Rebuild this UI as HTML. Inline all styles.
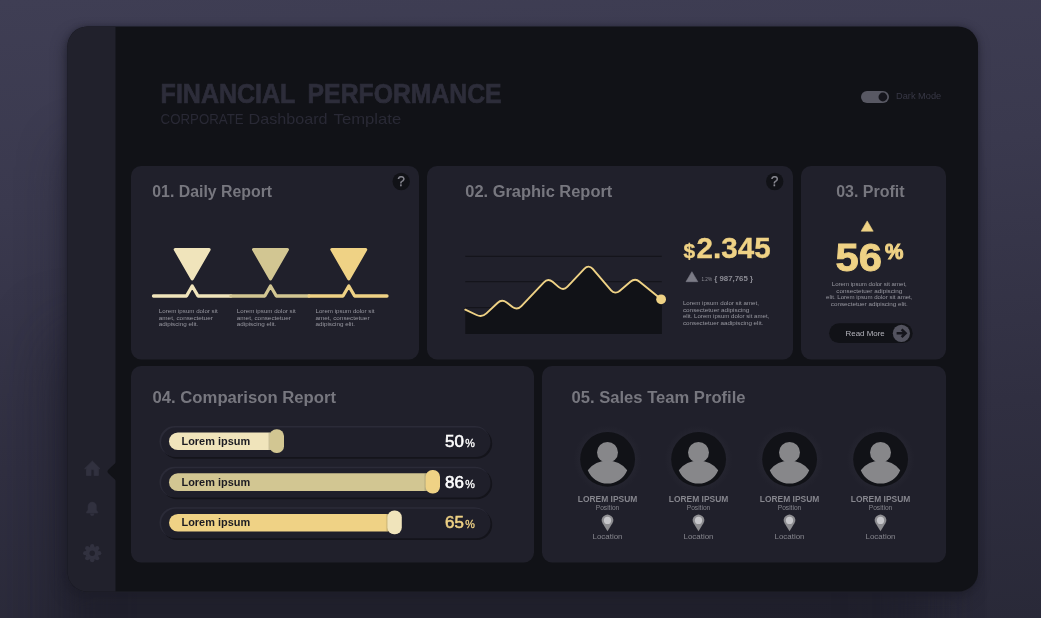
<!DOCTYPE html>
<html lang="en">
<head>
<meta charset="utf-8">
<title>Financial Performance – Corporate Dashboard Template</title>
<style>
html,body{margin:0;padding:0;background:#2c2b3c;}
body{width:1041px;height:618px;overflow:hidden;position:relative;font-family:"Liberation Sans",sans-serif;}
#bg{position:absolute;left:0;top:0;width:1041px;height:618px;
 background:linear-gradient(176deg,#3f3e54 0%,#3a394e 30%,#302f41 68%,#292938 100%);}
#frameshadow{position:absolute;left:67.5px;top:26.5px;width:910.5px;height:565px;border-radius:20px;background:#20202b;
 box-shadow:-3px 6px 14px 0 rgba(29,29,40,0.6), 0 0 5px 1px rgba(32,32,43,0.5);}
#shB{position:absolute;left:67.5px;top:26.5px;width:884px;height:565px;border-radius:20px;box-shadow:-10px 110px 50px -10px rgba(29,29,40,0.45);}
#shC{position:absolute;left:67.5px;top:26.5px;width:876px;height:565px;border-radius:20px;box-shadow:-22px 300px 64px -14px rgba(29,29,40,0.54);}
svg{position:absolute;left:0;top:0;display:block;}
text{font-family:"Liberation Sans",sans-serif;}
.h{font-weight:700;font-size:16px;fill:#77777f;}
.tiny{font-size:5.6px;fill:#9898a1;}
.lbl{font-weight:700;font-size:10.5px;fill:#1b1b22;}
.name{font-weight:700;font-size:9.3px;fill:#85858d;}
.pos{font-size:6.3px;fill:#85858d;}
.loc{font-size:7.2px;fill:#85858d;}
</style>
</head>
<body>
<div id="bg"></div>
<div id="shC"></div>
<div id="shB"></div>
<div id="frameshadow"></div>
<svg width="1041" height="618" viewBox="0 0 1041 618">
<defs>
  <linearGradient id="ks" x1="0" y1="0" x2="1" y2="0">
    <stop offset="0" stop-color="#6b6547" stop-opacity="0"/>
    <stop offset="1" stop-color="#6b6547" stop-opacity="0.45"/>
  </linearGradient>
  <radialGradient id="halo" cx="0.5" cy="0.5" r="0.5">
    <stop offset="0.8" stop-color="#24242f"/>
    <stop offset="1" stop-color="#20202b"/>
  </radialGradient>
  <clipPath id="frame"><rect x="67.5" y="26.5" width="910.5" height="565" rx="20"/></clipPath>
</defs>

<!-- BACKGROUND -->

<!-- FRAME -->
<g clip-path="url(#frame)">
  <rect x="67" y="26" width="912" height="566" fill="#111217"/>
  <rect x="67" y="26" width="48.5" height="566" fill="#21212c"/>
  <path d="M116 462.4 L109 468.9 Q107.5 470.3 107.5 471.5 Q107.5 472.7 109 474.1 L116 480.4 Z" fill="#111217"/>
</g>

<!-- HEADER -->
<g font-size="26.8" font-weight="700" fill="#2d2d3a" stroke="#2d2d3a" stroke-width="0.7">
  <text x="160.6" y="103" textLength="134.8" lengthAdjust="spacingAndGlyphs">FINANCIAL</text>
  <text x="307.6" y="103" textLength="194" lengthAdjust="spacingAndGlyphs">PERFORMANCE</text>
</g>
<g font-size="15" fill="#292935">
  <text x="160.6" y="124.2" textLength="83" lengthAdjust="spacingAndGlyphs">CORPORATE</text>
  <text x="248.6" y="124.2" textLength="79" lengthAdjust="spacingAndGlyphs">Dashboard</text>
  <text x="333.6" y="124.2" textLength="67.6" lengthAdjust="spacingAndGlyphs">Template</text>
</g>

<rect x="861" y="91" width="28" height="12" rx="6" fill="#585863"/>
<circle cx="882.9" cy="97" r="4.4" fill="#15151c"/>
<text x="896" y="99.4" font-size="8.6" fill="#383846" textLength="45.2" lengthAdjust="spacingAndGlyphs">Dark Mode</text>

<!-- CARDS -->
<rect x="131" y="166" width="288" height="193.4" rx="10" fill="#20202b"/>
<rect x="427" y="166" width="366" height="193.4" rx="10" fill="#20202b"/>
<rect x="801" y="166" width="145" height="193.4" rx="10" fill="#20202b"/>
<rect x="131" y="366" width="403" height="196.4" rx="10" fill="#20202b"/>
<rect x="542" y="366" width="404" height="196.4" rx="10" fill="#20202b"/>

<!-- CARD 01 -->
<text class="h" x="152.3" y="196.7" textLength="119.8" lengthAdjust="spacingAndGlyphs">01. Daily Report</text>
<circle cx="401.2" cy="181.5" r="8.7" fill="#111217"/>
<text x="401.2" y="186.4" font-size="13.8" fill="#8a8a93" stroke="#8a8a93" stroke-width="0.25" text-anchor="middle">?</text>

<g stroke-linejoin="round" stroke-width="3">
  <path d="M175.2 249.5 H209.2 L192.2 279 Z" fill="#f0e4bb" stroke="#f0e4bb"/>
  <path d="M253.5 249.5 H287.5 L270.5 279 Z" fill="#d2c692" stroke="#d2c692"/>
  <path d="M331.8 249.5 H365.8 L348.8 279 Z" fill="#efd285" stroke="#efd285"/>
</g>
<g fill="none" stroke-width="3.3" stroke-linecap="round" stroke-linejoin="round">
  <path d="M153.5 296 H186.5 L192.2 286 L198 296 H231" stroke="#f0e4bb"/>
  <path d="M231 296 H264.8 L270.5 286 L276.3 296 H309" stroke="#d2c692"/>
  <path d="M309 296 H343 L348.8 286 L354.6 296 H387" stroke="#efd285"/>
</g>
<g class="tiny">
  <text x="158.8" y="313" textLength="59" lengthAdjust="spacingAndGlyphs">Lorem ipsum dolor sit</text>
  <text x="158.8" y="319.7" textLength="54" lengthAdjust="spacingAndGlyphs">amet, consectetuer</text>
  <text x="158.8" y="326.4" textLength="39.5" lengthAdjust="spacingAndGlyphs">adipiscing elit.</text>
  <text x="236.8" y="313" textLength="59" lengthAdjust="spacingAndGlyphs">Lorem ipsum dolor sit</text>
  <text x="236.8" y="319.7" textLength="54" lengthAdjust="spacingAndGlyphs">amet, consectetuer</text>
  <text x="236.8" y="326.4" textLength="39.5" lengthAdjust="spacingAndGlyphs">adipiscing elit.</text>
  <text x="315.5" y="313" textLength="59" lengthAdjust="spacingAndGlyphs">Lorem ipsum dolor sit</text>
  <text x="315.5" y="319.7" textLength="54" lengthAdjust="spacingAndGlyphs">amet, consectetuer</text>
  <text x="315.5" y="326.4" textLength="39.5" lengthAdjust="spacingAndGlyphs">adipiscing elit.</text>
</g>

<!-- CARD 02 -->
<text class="h" x="465.3" y="196.7" textLength="147" lengthAdjust="spacingAndGlyphs">02. Graphic Report</text>
<circle cx="774.7" cy="181.5" r="8.7" fill="#111217"/>
<text x="774.7" y="186.4" font-size="13.8" fill="#8a8a93" stroke="#8a8a93" stroke-width="0.25" text-anchor="middle">?</text>

<g stroke="#14141b" stroke-width="1.2">
  <path d="M465.3 256.4 H661.7 M465.3 281.6 H661.7 M465.3 307.6 H661.7"/>
</g>
<path id="area" d="M465.3 309.7 L476.6 315.0 C479.8 316.5 483.8 315.9 486.4 313.4 L497.5 303.0 C500.1 300.5 503.8 300.4 506.7 302.5 L512.5 307.0 C515.4 309.1 518.9 308.9 521.4 306.2 L543.9 282.3 C546.4 279.6 549.8 279.5 552.6 281.8 L558.8 287.1 C561.6 289.4 565.0 289.3 567.5 286.6 L584.5 268.6 C587.0 265.9 590.2 266.0 592.5 268.7 L611.1 290.4 C613.4 293.1 616.8 293.3 619.6 291.0 L630.4 281.8 C633.2 279.5 636.9 279.4 639.6 281.7 L661.2 299.3 H661.9 V333.9 H465.3 Z" fill="#111217"/>
<path d="M465.3 309.7 L476.6 315.0 C479.8 316.5 483.8 315.9 486.4 313.4 L497.5 303.0 C500.1 300.5 503.8 300.4 506.7 302.5 L512.5 307.0 C515.4 309.1 518.9 308.9 521.4 306.2 L543.9 282.3 C546.4 279.6 549.8 279.5 552.6 281.8 L558.8 287.1 C561.6 289.4 565.0 289.3 567.5 286.6 L584.5 268.6 C587.0 265.9 590.2 266.0 592.5 268.7 L611.1 290.4 C613.4 293.1 616.8 293.3 619.6 291.0 L630.4 281.8 C633.2 279.5 636.9 279.4 639.6 281.7 L661.2 299.3" fill="none" stroke="#efd285" stroke-width="1.9" stroke-linecap="round"/>
<circle cx="661.1" cy="299.3" r="4.9" fill="#efd285"/>

<text x="683.4" y="257.6" font-size="21" font-weight="700" fill="#efd285" stroke="#efd285" stroke-width="0.4">$</text>
<text x="696.6" y="258.4" font-size="29.2" font-weight="700" fill="#efd285" stroke="#efd285" stroke-width="0.4" textLength="74" lengthAdjust="spacingAndGlyphs">2.345</text>
<path d="M691.9 271.7 L697.8 281.7 H686 Z" fill="#7b7b86" stroke="#7b7b86" stroke-width="0.6" stroke-linejoin="round"/>
<text x="701.5" y="280.6" font-size="5.2" fill="#8c8c95" textLength="10.5" lengthAdjust="spacingAndGlyphs">1.2%</text>
<text x="714.3" y="280.7" font-size="7.8" font-weight="700" fill="#8c8c95" textLength="38.7" lengthAdjust="spacingAndGlyphs">{ 987,765 }</text>
<g class="tiny">
  <text x="682.9" y="305" textLength="76" lengthAdjust="spacingAndGlyphs">Lorem ipsum dolor sit amet,</text>
  <text x="682.9" y="311.7" textLength="66.5" lengthAdjust="spacingAndGlyphs">consectetuer adipiscing</text>
  <text x="682.9" y="318.4" textLength="86.5" lengthAdjust="spacingAndGlyphs">elit. Lorem ipsum dolor sit amet,</text>
  <text x="682.9" y="325.1" textLength="80.5" lengthAdjust="spacingAndGlyphs">consectetuer aadipiscing elit.</text>
</g>

<!-- CARD 03 -->
<text class="h" x="870.4" y="196.7" text-anchor="middle" textLength="68.4" lengthAdjust="spacingAndGlyphs">03. Profit</text>
<path d="M867.2 220.9 L873.2 231.2 H861.2 Z" fill="#efd285" stroke="#efd285" stroke-width="0.6" stroke-linejoin="round"/>
<text x="835.6" y="271.3" font-size="39.5" font-weight="700" fill="#efd285" stroke="#efd285" stroke-width="0.9" textLength="46.4" lengthAdjust="spacingAndGlyphs">56</text>
<text x="885" y="259.2" font-size="22.4" font-weight="700" fill="#efd285" stroke="#efd285" stroke-width="1.1" textLength="18.4" lengthAdjust="spacingAndGlyphs">%</text>
<g class="tiny" text-anchor="middle">
  <text x="869.3" y="286.4" textLength="75" lengthAdjust="spacingAndGlyphs">Lorem ipsum dolor sit amet,</text>
  <text x="869.3" y="293" textLength="66" lengthAdjust="spacingAndGlyphs">consectetuer adipiscing</text>
  <text x="869.3" y="299.3" textLength="86.4" lengthAdjust="spacingAndGlyphs">elit. Lorem ipsum dolor sit amet,</text>
  <text x="869.3" y="306.2" textLength="77" lengthAdjust="spacingAndGlyphs">consectetuer adipiscing elit.</text>
</g>
<rect x="829.1" y="323.3" width="83.6" height="19.8" rx="9.9" fill="#111217"/>
<text x="845.5" y="336.2" font-size="8" fill="#b4b4bc" textLength="39.2" lengthAdjust="spacingAndGlyphs">Read More</text>
<circle cx="901.4" cy="333.3" r="8.6" fill="#53535f"/>
<path d="M896.6 333.3 H904.6 M901.6 329.4 L905.6 333.3 L901.6 337.2" fill="none" stroke="#15151c" stroke-width="2.5" stroke-linecap="butt" stroke-linejoin="miter"/>

<!-- CARD 04 -->
<text class="h" x="152.5" y="402.7" textLength="183.5" lengthAdjust="spacingAndGlyphs">04. Comparison Report</text>

<g transform="translate(160.6 427)">
    <rect x="1.2" y="1.3" width="330.4" height="30.4" rx="15.2" fill="#14141b"/>
    <rect x="-1.1" y="-0.9" width="330.4" height="30.4" rx="15.2" fill="#2b2b38"/>
    <rect x="0.5" y="0.6" width="329.4" height="29.4" rx="14.7" fill="#1f1f2a"/>
  </g>
<g transform="translate(160.6 467.6)">
    <rect x="1.2" y="1.3" width="330.4" height="30.4" rx="15.2" fill="#14141b"/>
    <rect x="-1.1" y="-0.9" width="330.4" height="30.4" rx="15.2" fill="#2b2b38"/>
    <rect x="0.5" y="0.6" width="329.4" height="29.4" rx="14.7" fill="#1f1f2a"/>
  </g>
<g transform="translate(160.6 508.2)">
    <rect x="1.2" y="1.3" width="330.4" height="30.4" rx="15.2" fill="#14141b"/>
    <rect x="-1.1" y="-0.9" width="330.4" height="30.4" rx="15.2" fill="#2b2b38"/>
    <rect x="0.5" y="0.6" width="329.4" height="29.4" rx="14.7" fill="#1f1f2a"/>
  </g>
<rect x="169" y="432.4" width="110" height="17.7" rx="8.85" fill="#f0e4bb"/>
<rect x="267.6" y="432.4" width="3" height="17.7" fill="url(#ks)"/><rect x="269.6" y="429.3" width="14.4" height="23.7" rx="6.8" fill="#d2c692"/>
<rect x="169" y="473.3" width="266" height="17.7" rx="8.85" fill="#d2c692"/>
<rect x="423.6" y="473.3" width="3" height="17.7" fill="url(#ks)"/><rect x="425.6" y="469.9" width="14.4" height="23.7" rx="6.8" fill="#efd285"/>
<rect x="169" y="513.9" width="227" height="17.7" rx="8.85" fill="#efd285"/>
<rect x="385.4" y="513.9" width="3" height="17.7" fill="url(#ks)"/><rect x="387.4" y="510.5" width="14.4" height="23.7" rx="6.8" fill="#f0e4bb"/>
<text class="lbl" x="181.5" y="444.8" textLength="68.6" lengthAdjust="spacingAndGlyphs">Lorem ipsum</text>
<text class="lbl" x="181.5" y="485.6" textLength="68.6" lengthAdjust="spacingAndGlyphs">Lorem ipsum</text>
<text class="lbl" x="181.5" y="526.2" textLength="68.6" lengthAdjust="spacingAndGlyphs">Lorem ipsum</text>
<text x="445" y="447.2" font-size="15.8" fill="#ffffff" stroke="#ffffff" stroke-width="0.55" textLength="18.8" lengthAdjust="spacingAndGlyphs">50</text>
<text x="465.3" y="447.2" font-size="10.6" fill="#ffffff" stroke="#ffffff" stroke-width="0.3" textLength="9.6" lengthAdjust="spacingAndGlyphs">%</text>
<text x="445" y="487.8" font-size="15.8" fill="#ffffff" stroke="#ffffff" stroke-width="0.55" textLength="18.8" lengthAdjust="spacingAndGlyphs">86</text>
<text x="465.3" y="487.8" font-size="10.6" fill="#ffffff" stroke="#ffffff" stroke-width="0.3" textLength="9.6" lengthAdjust="spacingAndGlyphs">%</text>
<text x="445" y="528.3" font-size="15.8" fill="#efd285" stroke="#efd285" stroke-width="0.55" textLength="18.8" lengthAdjust="spacingAndGlyphs">65</text>
<text x="465.3" y="528.3" font-size="10.6" fill="#efd285" stroke="#efd285" stroke-width="0.3" textLength="9.6" lengthAdjust="spacingAndGlyphs">%</text>

<!-- CARD 05 -->
<text class="h" x="571.5" y="402.8" textLength="174" lengthAdjust="spacingAndGlyphs">05. Sales Team Profile</text>

<g transform="translate(607.5 459)">
    <circle cx="0.1" cy="0.3" r="34" fill="url(#halo)"/>
    <circle cx="0.1" cy="0.3" r="27.4" fill="#111217"/>
    <circle cx="0" cy="-6.6" r="10.5" fill="#87878a"/>
    <path d="M-19.7 11.2 A25 25 0 0 1 19.7 11.2 A21.2 21.2 0 0 1 -19.7 11.2 Z" fill="#87878a"/>
    <text class="name" x="0" y="43" text-anchor="middle" textLength="59.5" lengthAdjust="spacingAndGlyphs">LOREM IPSUM</text>
    <text class="pos" x="0" y="50.8" text-anchor="middle" textLength="23.6" lengthAdjust="spacingAndGlyphs">Position</text>
    <path d="M0 72.3 L-4.9 64.2 A5.7 5.7 0 1 1 4.9 64.2 Z" fill="#8d8d91"/>
    <circle cx="0" cy="61.4" r="3.6" fill="#c6c6ca"/>
    <text class="loc" x="0" y="79.5" text-anchor="middle" textLength="30" lengthAdjust="spacingAndGlyphs">Location</text>
  </g>
<g transform="translate(698.5 459)">
    <circle cx="0.1" cy="0.3" r="34" fill="url(#halo)"/>
    <circle cx="0.1" cy="0.3" r="27.4" fill="#111217"/>
    <circle cx="0" cy="-6.6" r="10.5" fill="#87878a"/>
    <path d="M-19.7 11.2 A25 25 0 0 1 19.7 11.2 A21.2 21.2 0 0 1 -19.7 11.2 Z" fill="#87878a"/>
    <text class="name" x="0" y="43" text-anchor="middle" textLength="59.5" lengthAdjust="spacingAndGlyphs">LOREM IPSUM</text>
    <text class="pos" x="0" y="50.8" text-anchor="middle" textLength="23.6" lengthAdjust="spacingAndGlyphs">Position</text>
    <path d="M0 72.3 L-4.9 64.2 A5.7 5.7 0 1 1 4.9 64.2 Z" fill="#8d8d91"/>
    <circle cx="0" cy="61.4" r="3.6" fill="#c6c6ca"/>
    <text class="loc" x="0" y="79.5" text-anchor="middle" textLength="30" lengthAdjust="spacingAndGlyphs">Location</text>
  </g>
<g transform="translate(789.5 459)">
    <circle cx="0.1" cy="0.3" r="34" fill="url(#halo)"/>
    <circle cx="0.1" cy="0.3" r="27.4" fill="#111217"/>
    <circle cx="0" cy="-6.6" r="10.5" fill="#87878a"/>
    <path d="M-19.7 11.2 A25 25 0 0 1 19.7 11.2 A21.2 21.2 0 0 1 -19.7 11.2 Z" fill="#87878a"/>
    <text class="name" x="0" y="43" text-anchor="middle" textLength="59.5" lengthAdjust="spacingAndGlyphs">LOREM IPSUM</text>
    <text class="pos" x="0" y="50.8" text-anchor="middle" textLength="23.6" lengthAdjust="spacingAndGlyphs">Position</text>
    <path d="M0 72.3 L-4.9 64.2 A5.7 5.7 0 1 1 4.9 64.2 Z" fill="#8d8d91"/>
    <circle cx="0" cy="61.4" r="3.6" fill="#c6c6ca"/>
    <text class="loc" x="0" y="79.5" text-anchor="middle" textLength="30" lengthAdjust="spacingAndGlyphs">Location</text>
  </g>
<g transform="translate(880.5 459)">
    <circle cx="0.1" cy="0.3" r="34" fill="url(#halo)"/>
    <circle cx="0.1" cy="0.3" r="27.4" fill="#111217"/>
    <circle cx="0" cy="-6.6" r="10.5" fill="#87878a"/>
    <path d="M-19.7 11.2 A25 25 0 0 1 19.7 11.2 A21.2 21.2 0 0 1 -19.7 11.2 Z" fill="#87878a"/>
    <text class="name" x="0" y="43" text-anchor="middle" textLength="59.5" lengthAdjust="spacingAndGlyphs">LOREM IPSUM</text>
    <text class="pos" x="0" y="50.8" text-anchor="middle" textLength="23.6" lengthAdjust="spacingAndGlyphs">Position</text>
    <path d="M0 72.3 L-4.9 64.2 A5.7 5.7 0 1 1 4.9 64.2 Z" fill="#8d8d91"/>
    <circle cx="0" cy="61.4" r="3.6" fill="#c6c6ca"/>
    <text class="loc" x="0" y="79.5" text-anchor="middle" textLength="30" lengthAdjust="spacingAndGlyphs">Location</text>
  </g>

<!-- SIDEBAR ICONS -->
<g fill="#31313f">
  <!-- home -->
  <path d="M92.4 461.1 L100 468.7 H98.4 V475.6 H94.1 V470.6 Q94.1 469.6 92.5 469.6 Q91 469.6 91 470.6 V475.6 H86.5 V468.7 H84.6 Z" stroke="#31313f" stroke-width="0.8" stroke-linejoin="round"/>
  <!-- bell -->
  <path d="M88 510 V506.3 A4.2 4.2 0 0 1 96.4 506.3 V510 L97.9 511.9 V513.1 H86.5 V511.9 Z M90.2 513.7 a2 2 0 0 0 4 0 Z" stroke="#31313f" stroke-width="0.5" stroke-linejoin="round"/>
  <!-- gear -->
  <g transform="translate(92.2 553.2)"><circle r="6.7"/><circle cx="7.00" cy="0.00" r="2.15"/><circle cx="4.95" cy="4.95" r="2.15"/><circle cx="0.00" cy="7.00" r="2.15"/><circle cx="-4.95" cy="4.95" r="2.15"/><circle cx="-7.00" cy="0.00" r="2.15"/><circle cx="-4.95" cy="-4.95" r="2.15"/><circle cx="-0.00" cy="-7.00" r="2.15"/><circle cx="4.95" cy="-4.95" r="2.15"/><circle r="2.7" fill="#21212c"/></g>
</g>
</svg>
</body>
</html>
